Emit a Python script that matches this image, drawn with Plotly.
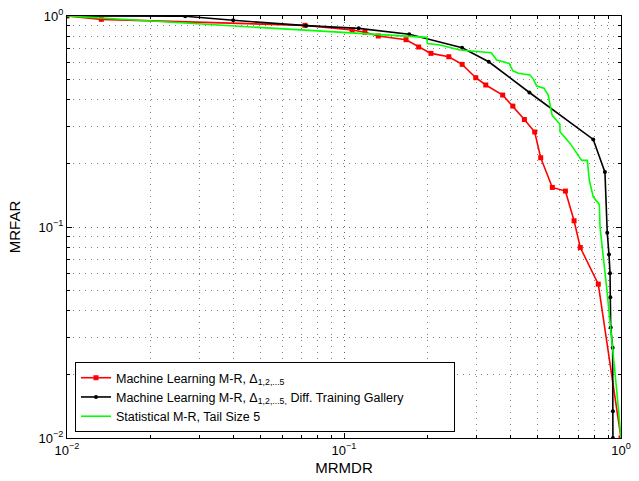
import plotly.graph_objects as go

# Machine Learning M-R (red, squares)
red_x = [0.01, 0.0133, 0.0723, 0.107, 0.119, 0.133, 0.1675, 0.186, 0.206, 0.239, 0.267,
         0.299, 0.325, 0.374, 0.407, 0.448, 0.488, 0.513, 0.565, 0.630, 0.677, 0.713, 0.828, 1.0]
red_y = [1.0, 0.964, 0.903, 0.858, 0.837, 0.804, 0.772, 0.713, 0.665, 0.641, 0.590,
         0.510, 0.471, 0.422, 0.374, 0.323, 0.282, 0.213, 0.154, 0.148, 0.107, 0.0799, 0.0536, 0.01]

# Machine Learning M-R, Diff. Training Gallery (black, dots)
black_x = [0.01, 0.0267, 0.0398, 0.0729, 0.113, 0.172, 0.267, 0.333, 0.467, 0.794, 0.875,
           0.892, 0.905, 0.913, 0.915, 0.918, 0.933, 0.935, 0.935]
black_y = [1.0, 0.997, 0.954, 0.900, 0.874, 0.819, 0.707, 0.607, 0.434, 0.260, 0.182,
           0.0940, 0.0740, 0.0603, 0.0465, 0.0334, 0.0268, 0.0134, 0.01]

# Statistical M-R, Tail Size 5 (green, no markers)
green_x = [0.01, 0.0819, 0.133, 0.168, 0.199, 0.200, 0.222, 0.262, 0.293, 0.340, 0.356,
           0.395, 0.407, 0.426, 0.469, 0.483, 0.496, 0.527, 0.546, 0.564, 0.602, 0.602,
           0.655, 0.695, 0.721, 0.756, 0.768, 0.794, 0.835, 0.840, 0.892, 0.965, 1.0]
green_y = [1.0, 0.849, 0.813, 0.804, 0.792, 0.741, 0.729, 0.690, 0.682, 0.670, 0.618,
           0.596, 0.550, 0.535, 0.525, 0.501, 0.466, 0.455, 0.422, 0.339, 0.307, 0.283,
           0.249, 0.223, 0.207, 0.207, 0.167, 0.139, 0.128, 0.100, 0.0484, 0.0168, 0.01]

names = ["Machine Learning M-R, Δ<sub>1,2,...5</sub>",
         "Machine Learning M-R, Δ<sub>1,2,...5,</sub> Diff. Training Gallery",
         "Statistical M-R, Tail Size 5"]

tick_vals = [0.01, 0.1, 1]
tick_text = ["10<sup>−2</sup>", "10<sup>−1</sup>", "10<sup>0</sup>"]

FONT = "Liberation Sans, Arial, Helvetica, sans-serif"
GRID = "rgba(90,90,90,0.75)"
PAD = "\u00a0" * 13  # blank room at the right of the legend box, as in the original

fig = go.Figure()
fig.add_trace(go.Scatter(x=red_x, y=red_y, mode="lines+markers", name=names[0],
                         line=dict(color="#ff0000", width=1.6),
                         marker=dict(symbol="square", size=5, color="#ff0000")))
fig.add_trace(go.Scatter(x=black_x, y=black_y, mode="lines+markers", name=names[1] + PAD,
                         line=dict(color="#000000", width=1.6),
                         marker=dict(symbol="circle", size=4, color="#000000")))
fig.add_trace(go.Scatter(x=green_x, y=green_y, mode="lines", name=names[2],
                         line=dict(color="#00ff00", width=1.6)))

axis_common = dict(
    type="log", automargin=False,
    showline=True, linecolor="black", linewidth=1, mirror="allticks",
    ticks="inside", ticklen=5, tickcolor="black", tickwidth=1,
    tickvals=tick_vals, ticktext=tick_text,
    showgrid=True, gridcolor=GRID, gridwidth=1, griddash="1px,5px",
    minor=dict(ticks="inside", ticklen=3, tickcolor="black", dtick="D1",
               showgrid=True, gridcolor=GRID, gridwidth=1, griddash="1px,5px"),
    zeroline=False,
    tickfont=dict(family=FONT, size=13, color="black"),
)

fig.update_layout(
    width=639, height=481,
    margin=dict(l=67, r=18, t=16, b=43),
    paper_bgcolor="white", plot_bgcolor="white",
    font=dict(family=FONT, size=12, color="black"),
    xaxis=dict(axis_common, range=[-2, 0],
               title=dict(text="MRMDR", font=dict(family=FONT, size=15), standoff=5)),
    yaxis=dict(axis_common, range=[-2, 0],
               title=dict(text="MRFAR", font=dict(family=FONT, size=15), standoff=14)),
    legend=dict(x=0.0144, y=0.014, xanchor="left", yanchor="bottom",
                bgcolor="white", bordercolor="black", borderwidth=1,
                font=dict(family=FONT, size=12.5, color="black"),
                tracegroupgap=0, itemwidth=30),
    showlegend=True,
)

# remove the browser's default 8px body margin so the figure fills the window exactly
fig.write_html("out.html",
               config={"displayModeBar": False},
               post_script="document.body.style.margin='0';document.body.style.overflow='hidden';")
